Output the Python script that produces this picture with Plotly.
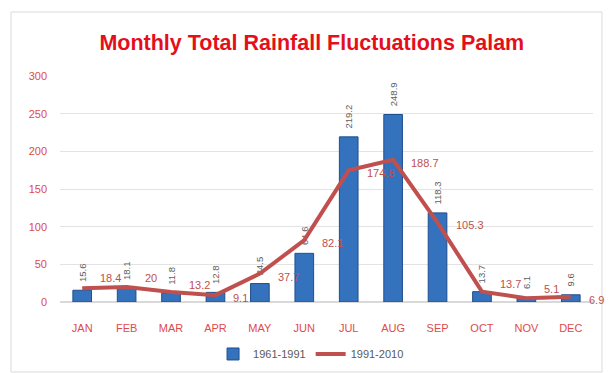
import plotly.graph_objects as go

months = ["JAN", "FEB", "MAR", "APR", "MAY", "JUN", "JUL", "AUG", "SEP", "OCT", "NOV", "DEC"]
rain_1961_1991 = [15.6, 18.1, 11.8, 12.8, 24.5, 64.6, 219.2, 248.9, 118.3, 13.7, 6.1, 9.6]
rain_1991_2010 = [18.4, 20, 13.2, 9.1, 37.7, 82.1, 174.8, 188.7, 105.3, 13.7, 5.1, 6.9]
y_ticks = [0, 50, 100, 150, 200, 250, 300]

# styling: vertical nudge (px) of the line's data labels
label_yshift = [10, 9, 7, -3, -3, -3, -3, -3, -2, 8, 9, -3]

fig = go.Figure()
fig.add_trace(go.Bar(
    x=months, y=rain_1961_1991, name="1961-1991",
    marker=dict(color="#3572be", line=dict(color="#1f4f8f", width=1)),
    width=0.42,
    text=["\u00a0\u00a0" + str(v) for v in rain_1961_1991], textposition="outside", textangle=-90,
    constraintext="none",
    textfont=dict(family="Liberation Sans", size=9.5, color="#606060"),
    cliponaxis=False,
))
fig.add_trace(go.Scatter(
    x=months, y=rain_1991_2010, name="1991-2010", mode="lines",
    line=dict(color="#c0504d", width=4),
    cliponaxis=False,
))
for m, v, ys in zip(months, rain_1991_2010, label_yshift):
    fig.add_annotation(x=m, y=v, text=str(v), showarrow=False,
                       xanchor="left", yanchor="middle", xshift=16, yshift=ys,
                       font=dict(family="Liberation Sans", size=11, color="#c0504d"))

fig.update_layout(
    width=609, height=373,
    margin=dict(l=60, r=16, t=76, b=71, autoexpand=False),
    paper_bgcolor="white", plot_bgcolor="white",
    title=dict(text="<b>Monthly Total Rainfall Fluctuations Palam</b>",
               x=0.512, xanchor="center", y=1 - 42 / 373, yanchor="middle", yref="container",
               font=dict(family="Liberation Sans", size=21.5, color="#e3101c")),
    showlegend=True,
    legend=dict(orientation="h", x=0.471, xanchor="center", y=-0.23, yanchor="middle",
                font=dict(family="Liberation Sans", size=11, color="#5a5a5a"),
                traceorder="normal", itemwidth=30),
    yaxis=dict(range=[0, 300], tickvals=y_ticks, showgrid=True, gridcolor="#e3e3e3",
               zeroline=True, zerolinecolor="#d9d9d9", ticks="", ticklabelstandoff=12,
               automargin=False,
               tickfont=dict(family="Liberation Sans", size=11, color="#e04a4a")),
    xaxis=dict(ticks="", showline=False, ticklabelstandoff=18, range=[-0.5, 11.5],
               automargin=False,
               tickfont=dict(family="Liberation Sans", size=11, color="#e04a4a")),
)
fig.add_shape(type="rect", xref="paper", yref="paper",
              x0=(11 - 60) / 533, x1=(602 - 60) / 533,
              y0=(302 - 372) / 226, y1=(302 - 12) / 226,
              line=dict(color="#d9d9d9", width=1), layer="below")

fig.write_html("out.html")
